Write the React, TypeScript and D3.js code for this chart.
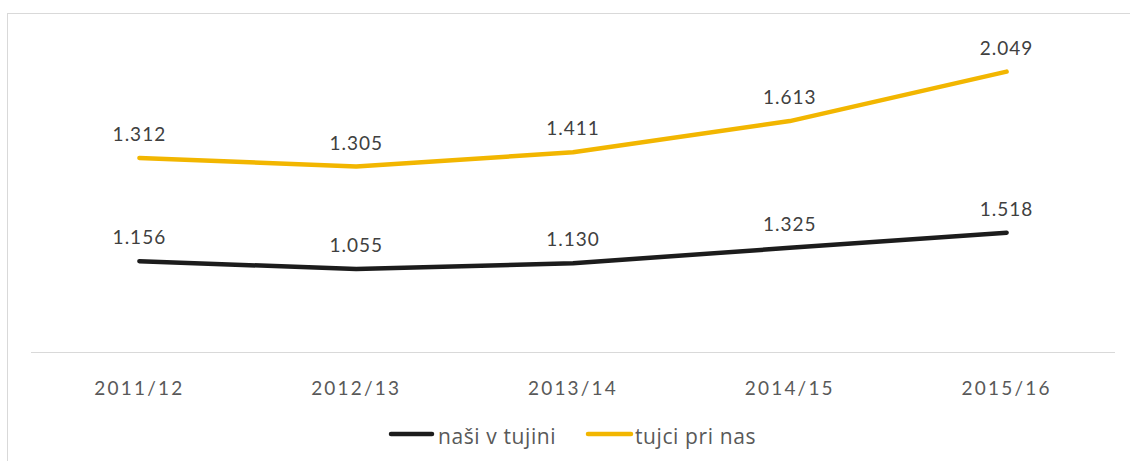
import React from "react";
import * as d3 from "d3";

const categories = ["2011/12", "2012/13", "2013/14", "2014/15", "2015/16"];
const nasiVTujini = [1.156, 1.055, 1.13, 1.325, 1.518];
const tujciPriNas = [1.312, 1.305, 1.411, 1.613, 2.049];
const seriesNames = ["naši v tujini", "tujci pri nas"];
const seriesColors = ["#1c1c1c", "#f2b600"];

const W = 1130;
const H = 461;
const plotLeft = 31;
const plotRight = 1115;
const plotTop = 37.6;
const plotBottom = 352;

const fmt = (v: number) => v.toFixed(3);

export default function App() {
  const x = d3
    .scaleBand<string>()
    .domain(categories)
    .range([plotLeft, plotRight])
    .paddingInner(0)
    .paddingOuter(0);
  const y = d3.scaleLinear().domain([0, 4]).range([plotBottom, plotTop]);
  const cx = (c: string) => (x(c) as number) + x.bandwidth() / 2;

  // stacked line
  const stacked = categories.map((c, i) => ({
    c,
    a: nasiVTujini[i],
    b: nasiVTujini[i] + tujciPriNas[i],
  }));
  const lineA = d3
    .line<(typeof stacked)[number]>()
    .x((d) => cx(d.c))
    .y((d) => y(d.a));
  const lineB = d3
    .line<(typeof stacked)[number]>()
    .x((d) => cx(d.c))
    .y((d) => y(d.b));

  const labelFont = "Lato, 'Open Sans', sans-serif";

  return (
    <svg
      width={W}
      height={H}
      style={{ position: "absolute", left: 0, top: 0, background: "#fff" }}
    >
      <rect x={7.5} y={13.5} width={W} height={H} fill="#fff" stroke="#d9d9d9" strokeWidth={1} />
      <line x1={plotLeft} x2={plotRight} y1={plotBottom + 0.5} y2={plotBottom + 0.5} stroke="#d9d9d9" strokeWidth={1} />
      <path d={lineB(stacked) || ""} fill="none" stroke={seriesColors[1]} strokeWidth={4.5} strokeLinecap="round" strokeLinejoin="round" />
      <path d={lineA(stacked) || ""} fill="none" stroke={seriesColors[0]} strokeWidth={4.5} strokeLinecap="round" strokeLinejoin="round" />
      {stacked.map((d, i) => (
        <g key={d.c} fontFamily={labelFont} fontSize={19} fill="#404040" textAnchor="middle" letterSpacing={1}>
          <text x={cx(d.c)} y={y(d.a) - 17}>{fmt(nasiVTujini[i])}</text>
          <text x={cx(d.c)} y={y(d.b) - 17}>{fmt(tujciPriNas[i])}</text>
        </g>
      ))}
      {categories.map((c) => (
        <text key={c} x={cx(c)} y={395} fontFamily={labelFont} fontSize={19} fill="#595959" textAnchor="middle" letterSpacing={2.2}>
          {c}
        </text>
      ))}
      <g fontFamily="'Open Sans', sans-serif" fontSize={21} fill="#595959" letterSpacing={0.6}>
        <line x1={391} x2={432} y1={434} y2={434} stroke={seriesColors[0]} strokeWidth={4.5} strokeLinecap="round" />
        <text x={438} y={443.5}>{seriesNames[0]}</text>
        <line x1={588} x2={631} y1={434} y2={434} stroke={seriesColors[1]} strokeWidth={4.5} strokeLinecap="round" />
        <text x={635} y={443.5}>{seriesNames[1]}</text>
      </g>
    </svg>
  );
}
